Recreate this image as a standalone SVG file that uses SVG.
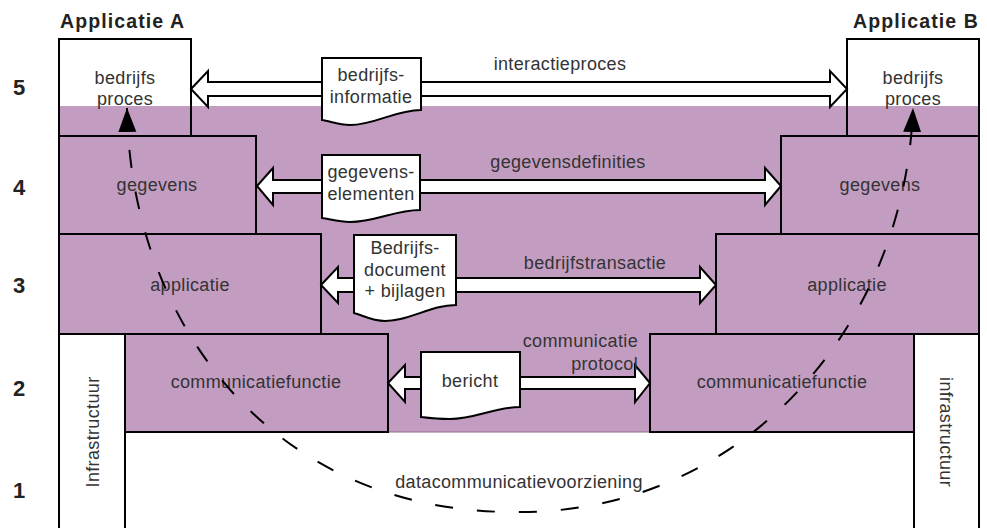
<svg xmlns="http://www.w3.org/2000/svg" width="987" height="528" viewBox="0 0 987 528">
<defs>
<style>
.t{font-family:"Liberation Sans",Arial,sans-serif;font-size:18px;fill:#333;letter-spacing:0.35px;text-anchor:middle}
.te{text-anchor:end}
.title{font-family:"Liberation Sans",Arial,sans-serif;font-size:19.5px;font-weight:bold;fill:#222;letter-spacing:1.1px}
.num{font-family:"Liberation Sans",Arial,sans-serif;font-size:22px;font-weight:bold;fill:#222}
.box{fill:#C39DC1;stroke:#000;stroke-width:2}
.wbox{fill:#fff;stroke:#000;stroke-width:2}
.frame{fill:none;stroke:#000;stroke-width:2}
.arrow{fill:#fff;stroke:#000;stroke-width:2;stroke-linejoin:miter}
.doc{fill:#fff;stroke:#000;stroke-width:2}
.curve{fill:none;stroke:#000;stroke-width:2;stroke-dasharray:18 24}
</style>
<marker id="head" markerUnits="userSpaceOnUse" markerWidth="26" markerHeight="20" refX="24" refY="10" orient="auto-start-reverse" viewBox="0 0 26 20">
<path d="M0,1 L24,10 L0,19 Z" fill="#000"/>
</marker>
</defs>
<rect width="987" height="528" fill="#fff"/>
<rect x="59" y="106" width="920" height="326" fill="#C39DC1"/>

<g id="labels">
<text class="title" x="60" y="28">Applicatie A</text>
<text class="title" x="979" y="28" text-anchor="end">Applicatie B</text>
<text class="num" x="13" y="95">5</text>
<text class="num" x="13" y="195">4</text>
<text class="num" x="13" y="293">3</text>
<text class="num" x="13" y="396">2</text>
<text class="num" x="13" y="498">1</text>
</g>

<g id="bottom-datacomm">
<rect x="125" y="432" width="789" height="110" fill="#fff"/>
<line x1="125" y1="432" x2="125" y2="530" stroke="#000" stroke-width="2"/>
<line x1="125" y1="432" x2="914" y2="432" stroke="#8c6a8a" stroke-width="1"/>
<text class="t" x="519" y="488">datacommunicatievoorziening</text>
</g>

<g id="a-proces">
<rect class="frame" x="59" y="39" width="132" height="97"/>
<text class="t" x="125" y="84">bedrijfs</text>
<text class="t" x="125" y="105">proces</text>
</g>
<g id="a-gegevens">
<rect class="box" x="59" y="136" width="197" height="98"/>
<text class="t" x="157" y="191">gegevens</text>
</g>
<g id="a-applicatie">
<rect class="box" x="59" y="234" width="262" height="100"/>
<text class="t" x="190" y="291">applicatie</text>
</g>
<g id="a-infra">
<rect class="wbox" x="59" y="334" width="66" height="210"/>
<text class="t" transform="translate(99,432) rotate(-90)">Infrastructuur</text>
</g>
<g id="a-comm">
<rect class="box" x="125" y="334" width="263" height="98"/>
<text class="t" x="256" y="388">communicatiefunctie</text>
</g>

<g id="b-proces">
<rect class="frame" x="847" y="39" width="132" height="97"/>
<text class="t" x="913" y="84">bedrijfs</text>
<text class="t" x="913" y="105">proces</text>
</g>
<g id="b-gegevens">
<rect class="box" x="781" y="136" width="198" height="98"/>
<text class="t" x="880" y="191">gegevens</text>
</g>
<g id="b-applicatie">
<rect class="box" x="716" y="234" width="263" height="100"/>
<text class="t" x="847" y="291">applicatie</text>
</g>
<g id="b-infra">
<rect class="wbox" x="914" y="334" width="65" height="210"/>
<text class="t" transform="translate(940,432) rotate(90)">infrastructuur</text>
</g>
<g id="b-comm">
<rect class="box" x="650" y="334" width="264" height="98"/>
<text class="t" x="782" y="388">communicatiefunctie</text>
</g>

<g id="connectors">
<polygon class="arrow" points="191,89 208,71 208,82 830,82 830,71 847,89 830,107 830,96 208,96 208,107"/>
<polygon class="arrow" points="257,186 273,168 273,180 765,180 765,168 781,186 765,205 765,193 273,193 273,205"/>
<polygon class="arrow" points="321,285 338,267 338,278 700,278 700,267 716,285 700,303 700,292 338,292 338,303"/>
<polygon class="arrow" points="388,383 405,365 405,377 635,377 635,365 650,383 635,402 635,389 405,389 405,402"/>
<path class="curve" d="M127,108 C130,320 270,515 520,512 C740,512 905,330 913,108" marker-start="url(#head)" marker-end="url(#head)"/>
<text class="t" x="560" y="70">interactieproces</text>
<text class="t" x="568" y="168">gegevensdefinities</text>
<text class="t" x="595" y="269">bedrijfstransactie</text>
<text class="t te" x="638" y="347">communicatie</text>
<text class="t te" x="638" y="370">protocol</text>
</g>

<g id="doc-bedrijfsinformatie">
<path class="doc" d="M322,58 H421 V110 C395,110 375,125 350,125 C338,125 330,121 322,120 Z"/>
<text class="t" x="371" y="81">bedrijfs-</text>
<text class="t" x="371" y="103">informatie</text>
</g>
<g id="doc-gegevenselementen">
<path class="doc" d="M322,155 H420 V210 C395,210 375,222 350,222 C338,222 330,219 322,218 Z"/>
<text class="t" x="371" y="178">gegevens-</text>
<text class="t" x="371" y="200">elementen</text>
</g>
<g id="doc-bedrijfsdocument">
<path class="doc" d="M354,235 H456 V305 C430,305 410,321 385,321 C372,321 362,315 354,313 Z"/>
<text class="t" x="405" y="254">Bedrijfs-</text>
<text class="t" x="405" y="276">document</text>
<text class="t" x="405" y="297">+ bijlagen</text>
</g>
<g id="doc-bericht">
<path class="doc" d="M421,352 H520 V407 C495,407 475,419 450,419 C437,419 429,418 421,417 Z"/>
<text class="t" x="470" y="387">bericht</text>
</g>
</svg>
